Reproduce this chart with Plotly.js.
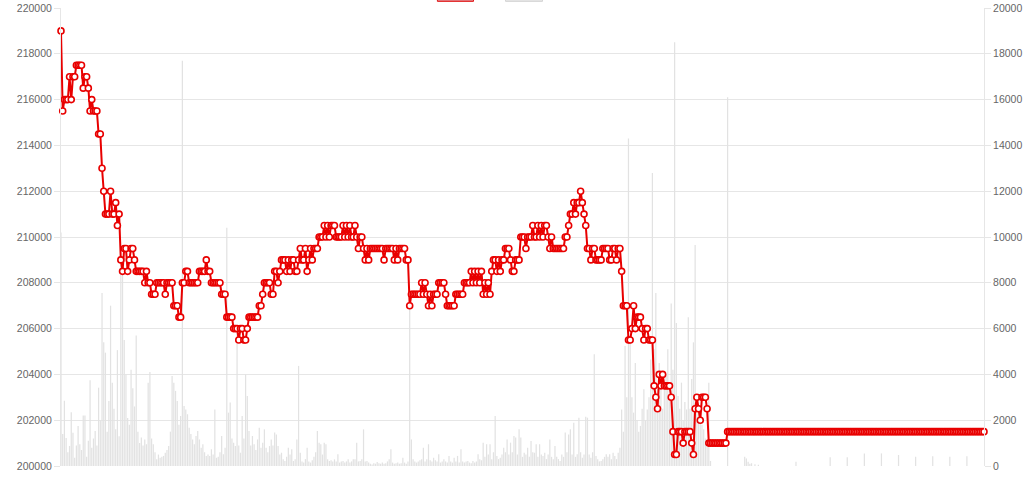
<!DOCTYPE html>
<html><head><meta charset="utf-8">
<script src="https://cdn.plot.ly/plotly-3.0.1.min.js"></script>
<style>html,body{margin:0;padding:0;background:#fff;}#chart{width:1024px;height:483px;}</style>
</head><body><div id="chart"></div>
<script>
// Price per minute (09:00 - 18:00)
const price = [
219000,215500,216000,216000,216000,217000,216000,217000,217000,217500,
217500,217500,217500,216500,217000,217000,216500,215500,216000,215500,
215500,215500,214500,214500,213000,212000,211000,211000,211000,212000,
211000,211000,211500,210500,211000,209000,208500,209500,209500,208500,
209000,209500,209500,209000,208500,208500,208500,208500,208500,208000,
208500,208000,208000,207500,207500,207500,208000,208000,208000,208000,
208000,207500,208000,208000,208000,208000,207000,207000,207000,206500,
206500,208000,208000,208500,208500,208000,208000,208000,208000,208000,
208000,208500,208500,208500,208500,209000,208500,208500,208000,208000,
208000,208000,208000,208000,207500,207500,207500,206500,206500,206500,
206500,206000,206000,206000,205500,206000,206000,205500,205500,206000,
206500,206500,206500,206500,206500,206500,207000,207000,207500,208000,
208000,208000,208000,207500,207500,208500,208500,208000,208500,209000,
209000,209000,208500,209000,208500,209000,209000,208500,208500,209000,
209500,209000,209000,209500,208500,209000,209500,209000,209500,209500,
209500,210000,210000,210000,210500,210000,210500,210000,210500,210500,
210500,210000,210000,210000,210000,210500,210000,210500,210000,210500,
210000,210000,210500,210000,209500,210000,210000,209500,209000,209500,
209000,209500,209500,209500,209500,209500,209500,209500,209500,209000,
209500,209500,209500,209500,209500,209000,209500,209000,209500,209500,
209500,209500,209000,209000,207000,207500,207500,207500,207500,207500,
207500,208000,207500,208000,207500,207000,207500,207000,207500,207500,
207500,208000,208000,208000,208000,207500,207000,207000,207000,207000,
207000,207500,207500,207500,207500,207500,208000,208000,208000,208000,
208500,208000,208500,208000,208500,208000,208500,207500,208000,207500,
208000,207500,208500,209000,209000,208500,209000,208500,209000,209000,
209500,209500,209500,209000,208500,208500,209000,209000,209000,210000,
210000,210000,209500,210000,210000,210000,210500,210000,210000,210500,
210000,210500,210000,210500,210500,210000,209500,210000,209500,209500,
209500,209500,209500,209500,209500,210000,210000,210500,211000,211000,
211500,211000,211500,211500,212000,211500,211000,210500,209500,209500,
209000,209500,209500,209000,209000,209000,209000,209500,209500,209500,
209500,209000,209000,209500,209500,209000,209500,209500,208500,207000,
207000,207000,205500,205500,206000,207000,206000,206500,206500,206500,
206000,205500,206000,206000,205500,205500,205500,203500,203000,202500,
204000,203500,204000,203500,203500,203500,203500,203000,201500,200500,
200500,201500,201500,201500,201000,201500,201500,201500,201500,201000,
200500,202500,203000,202500,202000,203000,203000,203000,202500,201000,
201000,201000,201000,201000,201000,201000,201000,201000,201000,201000,
201500,201500,201500,201500,201500,201500,201500,201500,201500,201500,
201500,201500,201500,201500,201500,201500,201500,201500,201500,201500,
201500,201500,201500,201500,201500,201500,201500,201500,201500,201500,
201500,201500,201500,201500,201500,201500,201500,201500,201500,201500,
201500,201500,201500,201500,201500,201500,201500,201500,201500,201500,
201500,201500,201500,201500,201500,201500,201500,201500,201500,201500,
201500,201500,201500,201500,201500,201500,201500,201500,201500,201500,
201500,201500,201500,201500,201500,201500,201500,201500,201500,201500,
201500,201500,201500,201500,201500,201500,201500,201500,201500,201500,
201500,201500,201500,201500,201500,201500,201500,201500,201500,201500,
201500,201500,201500,201500,201500,201500,201500,201500,201500,201500,
201500,201500,201500,201500,201500,201500,201500,201500,201500,201500,
201500,201500,201500,201500,201500,201500,201500,201500,201500,201500,
201500,201500,201500,201500,201500,201500,201500,201500,201500,201500,
201500,201500,201500,201500,201500,201500,201500,201500,201500,201500,
201500
];

// Volume per minute
const volume = [
10200,1400,2850,1220,600,875,2350,1450,360,900,
1750,950,700,2200,2200,400,1100,3740,800,1200,
1530,900,3420,2000,7550,5400,4950,1500,2840,7000,
3640,2500,1600,5060,1300,9000,8800,5500,4000,2100,
1800,4200,3400,2600,5700,1500,1000,1240,900,1160,
950,3640,4100,1200,950,600,300,500,360,400,
440,580,700,870,1500,3930,3640,3280,2840,1800,
2180,17700,2620,2470,2260,1670,1400,1160,950,1310,
1530,1160,800,950,600,440,500,440,730,500,
2470,360,400,600,1310,510,800,10400,2330,2770,
1200,1020,870,5800,900,580,2180,1200,4000,3060,
1530,900,1310,950,700,1160,1670,800,1020,1600,
800,600,870,1160,900,1460,1380,870,500,580,
300,220,400,800,500,730,220,300,1160,4370,
580,200,150,300,800,200,150,250,400,600,
1530,1020,950,500,1020,950,300,220,250,200,
290,200,510,150,200,220,150,200,290,150,
200,290,300,1020,200,220,300,1600,200,220,
150,100,70,120,100,170,120,100,150,100,
120,200,300,730,150,100,120,150,100,120,
360,150,100,200,7000,1160,300,200,150,200,
250,300,800,200,300,950,250,200,360,250,
200,510,150,200,290,200,150,440,200,150,
360,200,440,150,730,200,150,200,220,150,
120,220,150,200,510,300,250,1020,400,950,
500,950,300,600,2180,440,300,360,500,800,
600,1160,500,1020,600,1310,1240,500,1600,1240,
400,580,500,800,400,1090,600,580,950,400,
950,500,440,580,300,500,1160,400,300,870,
400,300,220,500,400,1460,600,1380,1600,500,
1890,400,510,2110,600,360,500,2150,2110,500,
360,600,4880,440,300,200,220,300,400,510,
400,510,300,580,440,300,580,800,2470,1500,
5240,3000,14300,5530,3000,2330,4500,2000,1500,1750,
2500,3350,2000,2470,3000,4650,12800,5100,7550,3000,
4500,3800,2500,3350,4000,5100,3000,7100,4200,18500,
6250,3060,2500,3640,2000,2800,2470,6500,2500,3800,
5400,9650,3000,2470,2260,1800,1600,1200,1160,3640,
220,0,0,0,0,0,0,0,0,0,
16100,0,0,0,0,0,0,0,0,0,
400,330,190,100,120,0,80,0,60,0,
0,0,0,0,0,0,0,0,0,0,
0,0,0,0,0,0,0,0,0,0,
190,0,0,0,0,0,0,0,0,0,
0,0,0,0,0,0,0,0,0,0,
380,0,0,0,0,0,0,0,0,0,
380,0,0,0,0,0,0,0,0,0,
550,0,0,0,0,0,0,0,0,0,
550,0,0,0,0,0,0,0,0,0,
480,0,0,0,0,0,0,0,0,0,
400,0,0,0,0,0,0,0,0,0,
430,0,0,0,0,0,0,0,0,0,
400,0,0,0,0,0,0,0,0,0,
430,0,0,0,0,0,0,0,0,0,
0
];

const priceTicks = [200000,202000,204000,206000,208000,210000,212000,214000,216000,218000,220000];
const volumeTicks = [0,2000,4000,6000,8000,10000,12000,14000,16000,18000,20000];

if (price.length !== volume.length) throw new Error('length mismatch ' + price.length + ' ' + volume.length);

// minute categories 09:00 ... 18:00
const times = [];
for (let m = 0; m < price.length; m++) {
  const t = 9 * 60 + m;
  times.push(String(Math.floor(t / 60)).padStart(2, '0') + ':' + String(t % 60).padStart(2, '0'));
}

const gridC = '#e6e6e6';
const tickFont = {family: 'Liberation Sans, Arial, Helvetica, sans-serif', size: 10.5, color: '#666'};

const traces = [
  {
    type: 'bar', x: times, y: volume, yaxis: 'y', name: 'volume',
    marker: {color: '#e2e2e2', line: {width: 0}},
    hoverinfo: 'x+y'
  },
  {
    type: 'scatter', mode: 'lines+markers', x: times, y: price, yaxis: 'y2', name: 'price',
    line: {color: 'rgb(232,0,0)', width: 2},
    marker: {symbol: 'circle', size: 6, color: '#ffffff', line: {color: 'rgb(232,0,0)', width: 1.6}},
    cliponaxis: false
  }
];

const layout = {
  width: 1024, height: 483,
  margin: {l: 61, r: 40, t: 8, b: 17, pad: 0},
  paper_bgcolor: '#fff', plot_bgcolor: '#fff',
  showlegend: false,
  bargap: 0.28,
  xaxis: {type: 'category', range: [0, price.length - 1], showticklabels: false, showgrid: false,
          zeroline: false, showline: false, ticks: ''},
  yaxis: {side: 'right', range: [0, 20000], tickvals: volumeTicks, tickformat: 'd',
          showgrid: true, gridcolor: gridC, gridwidth: 1, zeroline: false,
          showline: true, linecolor: gridC, linewidth: 1,
          ticks: 'outside', ticklen: 6, tickcolor: gridC, tickfont: tickFont},
  yaxis2: {overlaying: 'y', side: 'left', range: [200000, 220000], tickvals: priceTicks, tickformat: 'd',
           showgrid: false, zeroline: false,
           showline: true, linecolor: gridC, linewidth: 1,
           ticks: 'outside', ticklen: 6, tickcolor: gridC, tickfont: tickFont},
  shapes: [
    {type: 'rect', xref: 'paper', yref: 'paper', x0: 0.4078, x1: 0.4469, y0: 1.0145, y1: 1.06,
     fillcolor: 'rgba(215,90,100,0.75)', line: {color: 'rgb(225,20,20)', width: 1}},
    {type: 'rect', xref: 'paper', yref: 'paper', x0: 0.4816, x1: 0.5217, y0: 1.0145, y1: 1.06,
     fillcolor: '#e6e6e6', line: {color: '#d4d4d4', width: 1}}
  ]
};

Plotly.newPlot('chart', traces, layout, {displayModeBar: false, staticPlot: true});
</script>
</body></html>
